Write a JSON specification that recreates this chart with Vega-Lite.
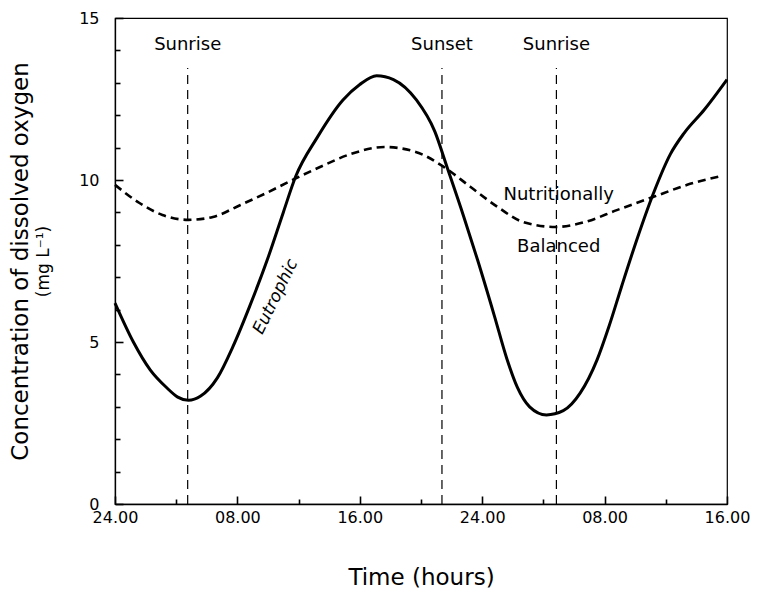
{
  "$schema": "https://vega.github.io/schema/vega-lite/v6.json",
  "width": 612,
  "height": 486,
  "autosize": "none",
  "padding": {"left": 115, "top": 18, "right": 30, "bottom": 88},
  "background": "white",
  "config": {
    "font": "DejaVu Sans",
    "view": {"stroke": "black", "strokeWidth": 1.2},
    "axis": {
      "domainColor": "black", "labelColor": "black", "titleColor": "black",
      "grid": false, "labelFont": "DejaVu Sans", "titleFont": "DejaVu Sans", "titleFontWeight": "normal",
      "domainWidth": 1.3
    }
  },
  "datasets": {
    "curves": [
      {"series": "Eutrophic", "hour": 0, "value": 6.2},
      {"series": "Eutrophic", "hour": 1.2, "value": 5.0},
      {"series": "Eutrophic", "hour": 2.3, "value": 4.14},
      {"series": "Eutrophic", "hour": 3.4, "value": 3.58},
      {"series": "Eutrophic", "hour": 4.1, "value": 3.3},
      {"series": "Eutrophic", "hour": 4.8, "value": 3.2},
      {"series": "Eutrophic", "hour": 5.6, "value": 3.33},
      {"series": "Eutrophic", "hour": 6.7, "value": 3.9},
      {"series": "Eutrophic", "hour": 7.7, "value": 4.85},
      {"series": "Eutrophic", "hour": 8.8, "value": 6.1},
      {"series": "Eutrophic", "hour": 10.0, "value": 7.6},
      {"series": "Eutrophic", "hour": 11.0, "value": 9.0},
      {"series": "Eutrophic", "hour": 11.8, "value": 10.1},
      {"series": "Eutrophic", "hour": 13.2, "value": 11.3},
      {"series": "Eutrophic", "hour": 14.9, "value": 12.47},
      {"series": "Eutrophic", "hour": 16.0, "value": 12.95},
      {"series": "Eutrophic", "hour": 17.1, "value": 13.22},
      {"series": "Eutrophic", "hour": 18.2, "value": 13.1},
      {"series": "Eutrophic", "hour": 19.7, "value": 12.47},
      {"series": "Eutrophic", "hour": 20.9, "value": 11.5},
      {"series": "Eutrophic", "hour": 21.7, "value": 10.4},
      {"series": "Eutrophic", "hour": 22.8, "value": 8.86},
      {"series": "Eutrophic", "hour": 23.7, "value": 7.53},
      {"series": "Eutrophic", "hour": 24.8, "value": 5.8},
      {"series": "Eutrophic", "hour": 25.6, "value": 4.5},
      {"series": "Eutrophic", "hour": 26.3, "value": 3.6},
      {"series": "Eutrophic", "hour": 27.1, "value": 3.0},
      {"series": "Eutrophic", "hour": 28.2, "value": 2.75},
      {"series": "Eutrophic", "hour": 29.3, "value": 2.88},
      {"series": "Eutrophic", "hour": 30.4, "value": 3.42},
      {"series": "Eutrophic", "hour": 31.5, "value": 4.44},
      {"series": "Eutrophic", "hour": 32.3, "value": 5.5},
      {"series": "Eutrophic", "hour": 33.1, "value": 6.7},
      {"series": "Eutrophic", "hour": 34.1, "value": 8.15},
      {"series": "Eutrophic", "hour": 35.2, "value": 9.6},
      {"series": "Eutrophic", "hour": 36.3, "value": 10.8},
      {"series": "Eutrophic", "hour": 37.2, "value": 11.45},
      {"series": "Eutrophic", "hour": 38.5, "value": 12.16},
      {"series": "Eutrophic", "hour": 40, "value": 13.1},
      {"series": "Balanced", "hour": 0, "value": 9.85},
      {"series": "Balanced", "hour": 1.6, "value": 9.29},
      {"series": "Balanced", "hour": 3.1, "value": 8.92},
      {"series": "Balanced", "hour": 4.8, "value": 8.77},
      {"series": "Balanced", "hour": 6.4, "value": 8.86},
      {"series": "Balanced", "hour": 8.2, "value": 9.23},
      {"series": "Balanced", "hour": 9.9, "value": 9.6},
      {"series": "Balanced", "hour": 11.6, "value": 10.0},
      {"series": "Balanced", "hour": 13.4, "value": 10.4},
      {"series": "Balanced", "hour": 15.4, "value": 10.8},
      {"series": "Balanced", "hour": 17.6, "value": 11.02},
      {"series": "Balanced", "hour": 19.7, "value": 10.86},
      {"series": "Balanced", "hour": 21.5, "value": 10.4},
      {"series": "Balanced", "hour": 23.2, "value": 9.8},
      {"series": "Balanced", "hour": 25.0, "value": 9.17},
      {"series": "Balanced", "hour": 26.7, "value": 8.7},
      {"series": "Balanced", "hour": 28.8, "value": 8.55},
      {"series": "Balanced", "hour": 30.7, "value": 8.7},
      {"series": "Balanced", "hour": 32.8, "value": 9.07},
      {"series": "Balanced", "hour": 35.2, "value": 9.48},
      {"series": "Balanced", "hour": 37.4, "value": 9.85},
      {"series": "Balanced", "hour": 39.6, "value": 10.12}
    ],
    "events": [
      {"label": "Sunrise", "hour": 4.75, "bottom": 0, "top": 13.46, "labelValue": 14.17},
      {"label": "Sunset", "hour": 21.37, "bottom": 0, "top": 13.46, "labelValue": 14.17},
      {"label": "Sunrise", "hour": 28.85, "bottom": 0, "top": 13.46, "labelValue": 14.17}
    ],
    "notes": [
      {"text": "Nutritionally", "hour": 29.0, "value": 9.54},
      {"text": "Balanced", "hour": 29.0, "value": 7.93}
    ],
    "eutro": [
      {"text": "Eutrophic", "hour": 10.5, "value": 6.4}
    ]
  },
  "layer": [
    {
      "data": {"name": "events"},
      "mark": {"type": "rule", "color": "black", "strokeWidth": 1.2, "strokeDash": [9, 6]},
      "encoding": {
        "x": {
          "field": "hour", "type": "quantitative",
          "scale": {"domain": [0, 40], "nice": false, "zero": false},
          "axis": {
            "orient": "bottom",
            "values": [0, 8, 16, 24, 32, 40],
            "labelExpr": "datum.value % 24 === 8 ? '08.00' : (datum.value % 24 === 16 ? '16.00' : '24.00')",
            "ticks": false,
            "labelFontSize": 16, "labelPadding": 5, "labelFlush": false, "labelOverlap": false,
            "title": "Time (hours)", "titleFontSize": 23, "titlePadding": 41
          }
        },
        "y": {
          "field": "bottom", "type": "quantitative",
          "scale": {"domain": [0, 15], "nice": false},
          "axis": {
            "orient": "left",
            "values": [0, 5, 10, 15],
            "ticks": false,
            "labelFontSize": 16, "labelPadding": 16, "labelOverlap": false,
            "title": "Concentration of dissolved oxygen", "titleFontSize": 23, "titlePadding": 46
          }
        },
        "y2": {"field": "top"}
      }
    },
    {
      "data": {"name": "curves"},
      "transform": [{"filter": "datum.series === 'Eutrophic'"}],
      "mark": {"type": "line", "color": "black", "strokeWidth": 3, "interpolate": "monotone"},
      "encoding": {
        "x": {
          "field": "hour", "type": "quantitative",
          "axis": {
            "orient": "top", "offset": -486, "values": [0, 8, 16, 24, 32, 40],
            "ticks": true, "tickSize": 8, "tickColor": "black", "tickWidth": 1.6,
            "labels": false, "domain": false, "title": null
          }
        },
        "y": {
          "field": "value", "type": "quantitative",
          "axis": {
            "orient": "left", "title": "(mg L⁻¹)", "titleFontSize": 17,
            "labels": false, "ticks": false, "domain": false, "titlePadding": 63
          }
        }
      }
    },
    {
      "data": {"name": "curves"},
      "transform": [{"filter": "datum.series === 'Balanced'"}],
      "mark": {"type": "line", "color": "black", "strokeWidth": 2.6, "strokeDash": [8, 5], "interpolate": "monotone"},
      "encoding": {
        "x": {
          "field": "hour", "type": "quantitative",
          "axis": {
            "orient": "top", "offset": -486, "values": [4, 12, 20, 28, 36],
            "ticks": true, "tickSize": 5, "tickColor": "black", "tickWidth": 1.6,
            "labels": false, "domain": false, "title": null
          }
        },
        "y": {
          "field": "value", "type": "quantitative",
          "axis": {
            "orient": "right", "offset": -612, "values": [0, 5, 10, 15],
            "ticks": true, "tickSize": 8, "tickColor": "black", "tickWidth": 1.6,
            "labels": false, "domain": false, "title": null
          }
        }
      }
    },
    {
      "data": {"name": "events"},
      "mark": {"type": "text", "color": "black", "fontSize": 18, "align": "center", "baseline": "middle"},
      "encoding": {
        "x": {"field": "hour", "type": "quantitative", "axis": null},
        "y": {
          "field": "labelValue", "type": "quantitative",
          "axis": {
            "orient": "right", "offset": -612, "values": [1, 2, 3, 4, 6, 7, 8, 9, 11, 12, 13, 14],
            "ticks": true, "tickSize": 5, "tickColor": "black", "tickWidth": 1.6,
            "labels": false, "domain": false, "title": null
          }
        },
        "text": {"field": "label"}
      }
    },
    {
      "data": {"name": "notes"},
      "mark": {"type": "text", "color": "black", "fontSize": 18, "align": "center", "baseline": "middle"},
      "encoding": {
        "x": {"field": "hour", "type": "quantitative", "axis": null},
        "y": {"field": "value", "type": "quantitative", "axis": null},
        "text": {"field": "text"}
      }
    },
    {
      "data": {"name": "eutro"},
      "mark": {"type": "text", "color": "black", "fontSize": 17, "fontStyle": "italic", "angle": -64, "align": "center", "baseline": "middle"},
      "encoding": {
        "x": {"field": "hour", "type": "quantitative", "axis": null},
        "y": {"field": "value", "type": "quantitative", "axis": null},
        "text": {"field": "text"}
      }
    }
  ],
  "resolve": {"axis": {"x": "independent", "y": "independent"}}
}
